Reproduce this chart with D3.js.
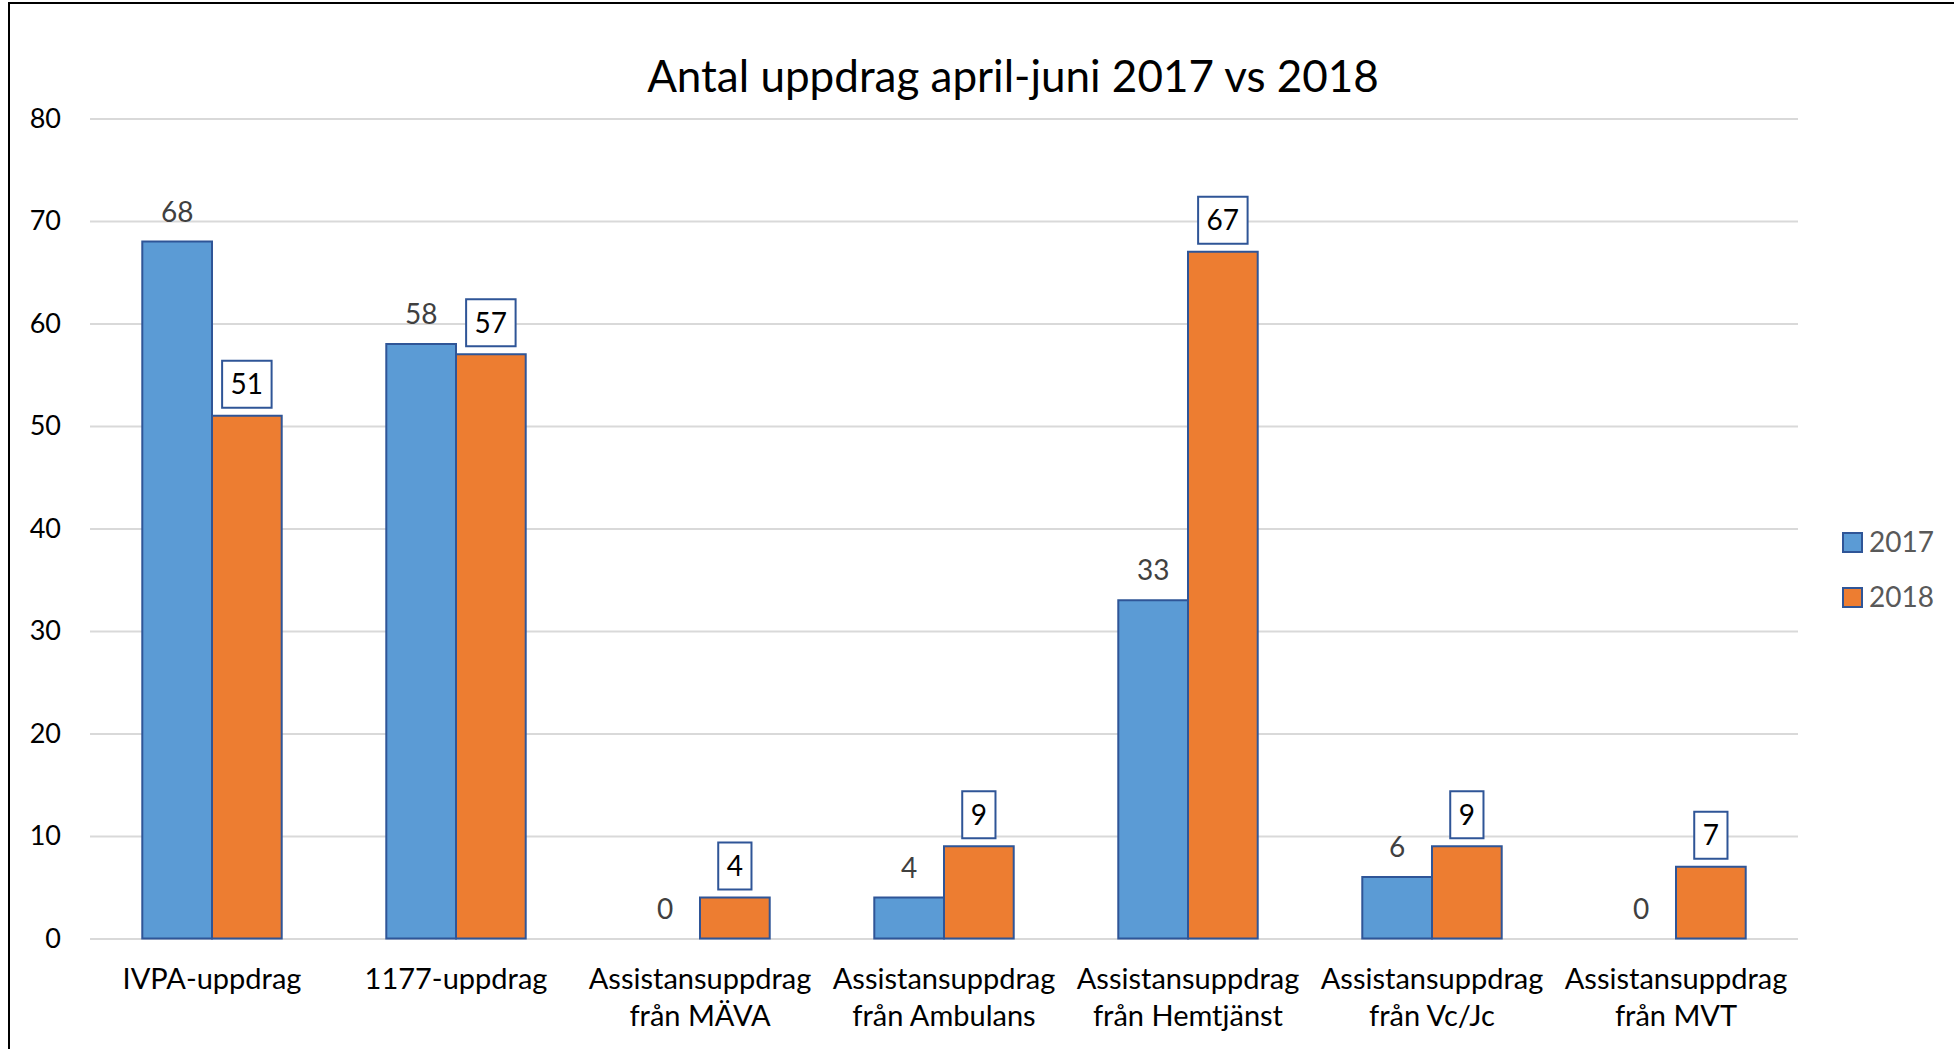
<!DOCTYPE html>
<html>
<head>
<meta charset="utf-8">
<script src="https://cdn.jsdelivr.net/npm/d3@7"></script>
<style>
  body { margin: 0; background: #fff; }
  text { font-family: Lato, "Open Sans", sans-serif; }
</style>
</head>
<body>
<svg id="chart"></svg>
<script>
const categories = [
  "IVPA-uppdrag",
  "1177-uppdrag",
  "Assistansuppdrag\nfrån MÄVA",
  "Assistansuppdrag\nfrån Ambulans",
  "Assistansuppdrag\nfrån Hemtjänst",
  "Assistansuppdrag\nfrån Vc/Jc",
  "Assistansuppdrag\nfrån MVT"
];
const seriesNames = ["2017", "2018"];
const values2017 = [68, 58, 0, 4, 33, 6, 0];
const values2018 = [51, 57, 4, 9, 67, 9, 7];
const yTicks = [0, 10, 20, 30, 40, 50, 60, 70, 80];

const width = 1954;
const height = 1049;
const plot = { left: 90, right: 1798, top: 118.5, bottom: 938.5 };
const colors = { "2017": "#5B9BD5", "2018": "#ED7D31" };
const barStroke = "#2F5597";

const rows = categories.map((c, i) => ({ cat: c, "2017": values2017[i], "2018": values2018[i] }));

const svg = d3.select("#chart")
  .attr("width", width)
  .attr("height", height);

// outer frame (only left and top edges visible in the crop)
svg.append("line").attr("x1", 9).attr("x2", 9).attr("y1", 2).attr("y2", height)
  .attr("stroke", "#000").attr("stroke-width", 2);
svg.append("line").attr("x1", 9).attr("x2", width).attr("y1", 3).attr("y2", 3)
  .attr("stroke", "#000").attr("stroke-width", 2);

const x0 = d3.scaleBand()
  .domain(categories)
  .range([plot.left, plot.right])
  .padding(0);

const x1 = d3.scaleBand()
  .domain(seriesNames)
  .range([0, x0.bandwidth()])
  .paddingInner(0)
  .paddingOuter(0.75);

const y = d3.scaleLinear()
  .domain([0, 80])
  .range([plot.bottom, plot.top]);

// title
svg.append("text")
  .attr("x", 1013)
  .attr("y", 92)
  .attr("text-anchor", "middle")
  .style("font-size", "44px")
  .style("fill", "#000")
  .text("Antal uppdrag april-juni 2017 vs 2018");

// y axis with gridlines
const yAxis = d3.axisLeft(y)
  .tickValues(yTicks)
  .tickSize(-(plot.right - plot.left))
  .tickPadding(29);

const gy = svg.append("g")
  .attr("transform", "translate(" + plot.left + ",0)")
  .call(yAxis);
gy.select(".domain").remove();
gy.selectAll(".tick line").attr("stroke", "#D9D9D9").attr("stroke-width", 2);
gy.selectAll(".tick text")
  .style("font-size", "27px")
  .style("fill", "#000")
  .style("font-family", "Lato, sans-serif");

// bars
const groups = svg.append("g")
  .selectAll("g")
  .data(rows)
  .enter()
  .append("g")
  .attr("transform", d => "translate(" + x0(d.cat) + ",0)");

groups.selectAll("rect")
  .data(d => seriesNames.map(s => ({ s: s, v: d[s] })))
  .enter()
  .filter(d => d.v > 0)
  .append("rect")
  .attr("x", d => x1(d.s))
  .attr("y", d => y(d.v))
  .attr("width", x1.bandwidth())
  .attr("height", d => y(0) - y(d.v))
  .attr("fill", d => colors[d.s])
  .attr("stroke", barStroke)
  .attr("stroke-width", 2);

// labels for 2017 (plain)
groups.append("text")
  .attr("x", x1("2017") + x1.bandwidth() / 2)
  .attr("y", d => y(d["2017"]) - 20)
  .attr("text-anchor", "middle")
  .style("font-size", "28px")
  .style("fill", "#404040")
  .text(d => d["2017"]);

// labels for 2018 (boxed)
const boxH = 47;
const lab18 = groups.append("g")
  .attr("transform", d => "translate(" + (x1("2018") + x1.bandwidth() / 2) + "," + (y(d["2018"]) - 8 - boxH) + ")");

lab18.append("text")
  .attr("x", 0)
  .attr("y", boxH / 2 + 10)
  .attr("text-anchor", "middle")
  .style("font-size", "28px")
  .style("fill", "#000")
  .text(d => d["2018"]);

lab18.each(function() {
  const g = d3.select(this);
  const w = g.select("text").node().getComputedTextLength() + 17;
  g.insert("rect", "text")
    .attr("x", -w / 2)
    .attr("y", 0)
    .attr("width", w)
    .attr("height", boxH)
    .attr("fill", "#fff")
    .attr("stroke", barStroke)
    .attr("stroke-width", 2);
});

// category labels
const xLabels = svg.append("g")
  .selectAll("text")
  .data(categories)
  .enter()
  .append("text")
  .attr("x", d => x0(d) + x0.bandwidth() / 2)
  .attr("y", 989)
  .attr("text-anchor", "middle")
  .style("font-size", "29px")
  .style("fill", "#000");

xLabels.selectAll("tspan")
  .data(d => d.split("\n"))
  .enter()
  .append("tspan")
  .attr("x", function() { return d3.select(this.parentNode).attr("x"); })
  .attr("dy", (d, i) => i === 0 ? 0 : 37)
  .text(d => d);

// legend
const legend = svg.append("g")
  .selectAll("g")
  .data(seriesNames)
  .enter()
  .append("g")
  .attr("transform", (d, i) => "translate(1843," + (533 + i * 55) + ")");

legend.append("rect")
  .attr("width", 19)
  .attr("height", 19)
  .attr("fill", d => colors[d])
  .attr("stroke", barStroke)
  .attr("stroke-width", 2);

legend.append("text")
  .attr("x", 26)
  .attr("y", 19)
  .style("font-size", "28px")
  .style("fill", "#595959")
  .text(d => d);
</script>
</body>
</html>
